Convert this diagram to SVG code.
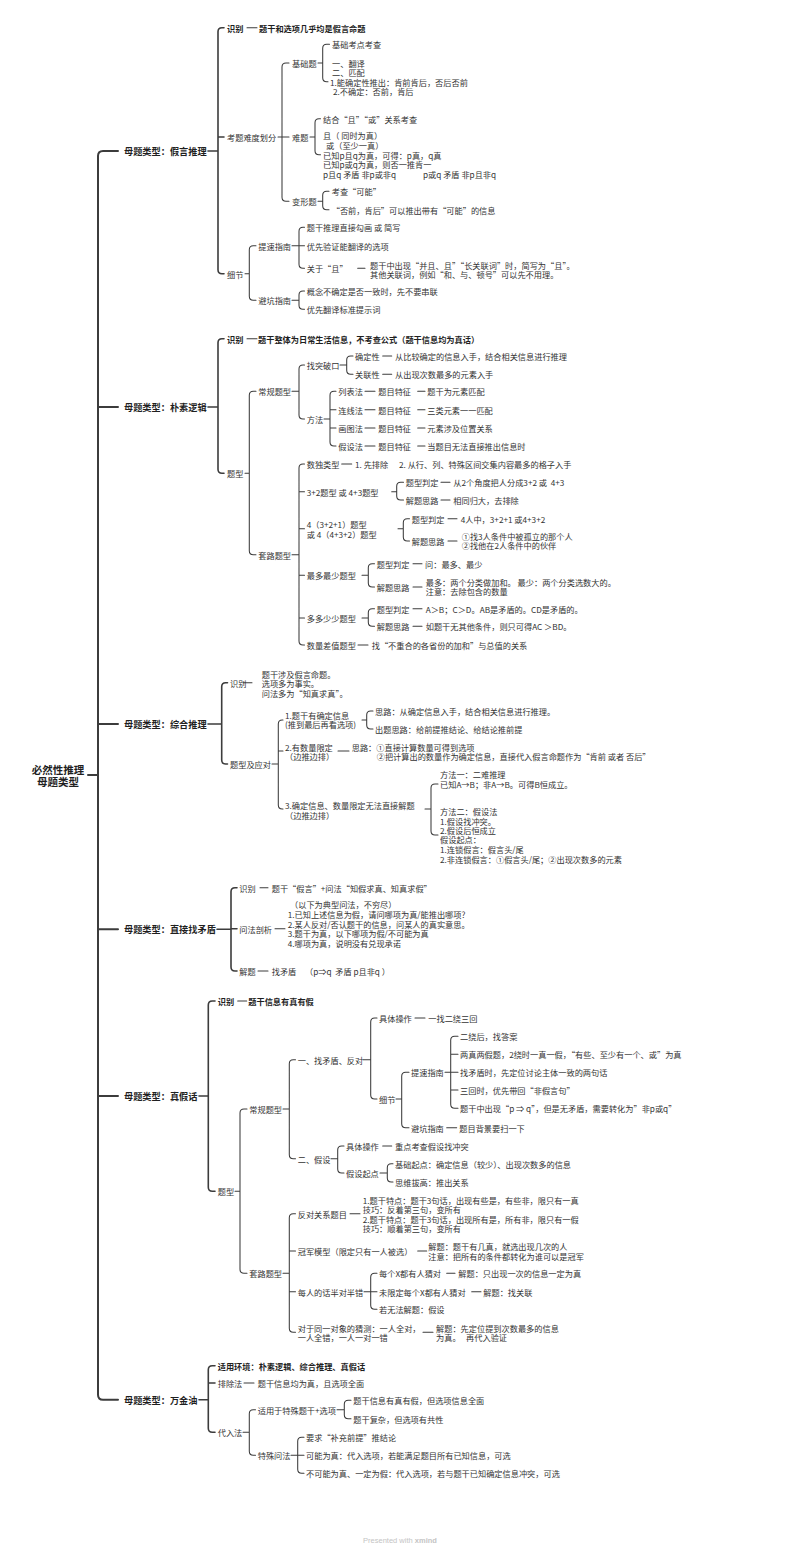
<svg xmlns="http://www.w3.org/2000/svg" width="800" height="1552" viewBox="0 0 800 1552">
<style>
.t{font-family:"Noto Sans CJK SC","Noto Sans",sans-serif;font-size:8.2px;fill:#333;dominant-baseline:central;white-space:pre}
.b{font-weight:700;fill:#1f1f1f}
.cat{font-size:9.2px;font-weight:700;fill:#1f1f1f}
.root{font-size:10.5px;font-weight:700;fill:#1f1f1f;text-anchor:middle}
.ft{font-family:"Liberation Sans",sans-serif;font-size:7.5px;fill:#c4c4c4;text-anchor:middle}
.ln{fill:none;stroke:#3c3c3c;stroke-width:1.05;stroke-linecap:round}
.lm{stroke-width:1.6}
.lt{stroke-width:2}
</style>
<rect width="800" height="1552" fill="#fff"/>
<g id="connectors">
<path class="ln lt" d="M88 775H98 M118 151H103Q98 151 98 156V1394.7Q98 1399.7 103 1399.7H118 M98 407H118 M98 724H118 M98 929.3H118 M98 1096H118"/>
<path class="ln lm" d="M208 151H218 M224 27.7H222Q218 27.7 218 31.7V269.7Q218 273.7 222 273.7H224 M218 137H224"/>
<path class="ln" d="M247 27.7H257 M278 137H289 M289 63H286Q282 63 282 67V197.3Q282 201.3 286 201.3H289
M318 63H322.7 M329.5 44.3H326.7Q322.7 44.3 322.7 48.3V77.7Q322.7 81.7 326.7 81.7H328
M310 137H315 M320.5 118.7H319Q315 118.7 315 122.7V150.7Q315 154.7 319 154.7H320.5
M318 201.3H322.7 M329 191.3H326.7Q322.7 191.3 322.7 195.3V205.7Q322.7 209.7 326.7 209.7H329
M245 273.7H249.3 M256 245.7H253.3Q249.3 245.7 249.3 249.7V296.3Q249.3 300.3 253.3 300.3H256
M292 245.7H304.5 M304.5 227.3H303Q299 227.3 299 231.3V264.3Q299 268.3 303 268.3H304.5 M357.7 268.3H365
M292 300.3H299 M304.5 291H303Q299 291 299 295V305.3Q299 309.3 303 309.3H304.5"/>
<path class="ln lm" d="M208 407H218 M224 338.7H222Q218 338.7 218 342.7V469.3Q218 473.3 222 473.3H224"/>
<path class="ln" d="M247 338.7H257 M245 473.3H249.3 M256 391.3H253.3Q249.3 391.3 249.3 395.3V550.7Q249.3 554.7 253.3 554.7H256
M292 391.3H299 M304.5 365H303Q299 365 299 369V415Q299 419 303 419H304.5
M340 365H346.7 M353 356H350.7Q346.7 356 346.7 360V370.3Q346.7 374.3 350.7 374.3H353 M382.7 356H391.7 M382.7 374.3H391.7
M324 419H330 M336 391.3H334Q330 391.3 330 395.3V442Q330 446 334 446H336 M330 409.7H336 M330 428H336
M365 391.3H375 M417.7 391.3H425 M365 409.7H375 M417.7 409.7H425 M365 428H375 M417.7 428H425 M365 446H375 M417.7 446H425
M292 554.7H299 M304.5 464H303Q299 464 299 468V641Q299 645 303 645H304.5 M299 491.7H304.5 M299 528.7H304.5 M299 575.3H304.5 M299 618H304.5
M341.7 464H351.7
M391.7 491.7H396.7 M403.5 482.3H400.7Q396.7 482.3 396.7 486.3V496Q396.7 500 400.7 500H403.5 M441 482.3H450 M441 500H450
M398 528.7H403.3 M409.5 518.7H407.3Q403.3 518.7 403.3 522.7V537Q403.3 541 407.3 541H409.5 M448 518.7H457 M448 541H457
M362 575.3H368.3 M374.5 563.7H372.3Q368.3 563.7 368.3 567.7V583Q368.3 587 372.3 587H374.5 M413 563.7H422 M413 587H422
M362 618H368.3 M374.5 608.7H372.3Q368.3 608.7 368.3 612.7V622.3Q368.3 626.3 372.3 626.3H374.5 M413 608.7H422 M413 626.3H422
M358 645H368"/>
<path class="ln lm" d="M208 724H221.7 M227.5 682.7H225.7Q221.7 682.7 221.7 686.7V760Q221.7 764 225.7 764H227.5"/>
<path class="ln" d="M243 682.7H252 M272 764H278.3 M283 720H282.3Q278.3 720 278.3 724V805Q278.3 809 282.3 809H283 M278.3 751H283
M362 720H366.7 M373 711H370.7Q366.7 711 366.7 715V725Q366.7 729 370.7 729H373
M338 751H349
M425 809H431 M438 784H435Q431 784 431 788V831Q431 835 435 835H438"/>
<path class="ln lm" d="M217 929.3H231 M237 887.7H235Q231 887.7 231 891.7V967Q231 971 235 971H237 M231 928.7H237"/>
<path class="ln" d="M260 887.7H268 M275 928.7H285 M258 971H268"/>
<path class="ln lm" d="M199 1096H208.3 M215 1001H212.3Q208.3 1001 208.3 1005V1187.3Q208.3 1191.3 212.3 1191.3H215"/>
<path class="ln" d="M237.7 1001H246.7 M235 1191.3H240 M247 1109H244Q240 1109 240 1113V1269.3Q240 1273.3 244 1273.3H247
M283 1109H289.3 M295.5 1059.7H293.3Q289.3 1059.7 289.3 1063.7V1154.7Q289.3 1158.7 293.3 1158.7H295.5
M363 1059.7H370.7 M377 1018H374.7Q370.7 1018 370.7 1022V1095Q370.7 1099 374.7 1099H377 M415 1018H425
M396 1099H401.7 M409 1072.3H405.7Q401.7 1072.3 401.7 1076.3V1123.7Q401.7 1127.7 405.7 1127.7H409
M445 1072.3H458 M458 1036.3H454.7Q450.7 1036.3 450.7 1040.3V1104.3Q450.7 1108.3 454.7 1108.3H458 M450.7 1054.3H458 M450.7 1090H458
M446.7 1127.7H456.7
M331 1158.7H337.7 M344 1146H341.7Q337.7 1146 337.7 1150V1169Q337.7 1173 341.7 1173H344 M382.7 1146H391.7
M380 1173H387.3 M393 1163.7H391.3Q387.3 1163.7 387.3 1167.7V1178Q387.3 1182 391.3 1182H393
M283 1273.3H289.3 M295.5 1213.7H293.3Q289.3 1213.7 289.3 1217.7V1328.3Q289.3 1332.3 293.3 1332.3H295.5 M289.3 1251H295.5 M289.3 1291.7H295.5
M350 1213.7H360 M417.7 1251H426.7
M364 1291.7H377 M377 1273.3H374.7Q370.7 1273.3 370.7 1277.3V1305.3Q370.7 1309.3 374.7 1309.3H377 M446.7 1273.3H455 M471.7 1291.7H481
M423 1332.3H433"/>
<path class="ln lm" d="M199 1399.7H208.3 M215 1365.7H212.3Q208.3 1365.7 208.3 1369.7V1428.3Q208.3 1432.3 212.3 1432.3H215 M208.3 1383H215"/>
<path class="ln" d="M244 1383H254 M243 1432.3H249.3 M255.5 1409.7H253.3Q249.3 1409.7 249.3 1413.7V1451.3Q249.3 1455.3 253.3 1455.3H255.5
M337 1409.7H344.3 M351 1400.3H348.3Q344.3 1400.3 344.3 1404.3V1414.7Q344.3 1418.7 348.3 1418.7H351
M291 1455.3H304 M304 1437.3H301.7Q297.7 1437.3 297.7 1441.3V1469.3Q297.7 1473.3 301.7 1473.3H304"/>
</g>
<g id="root"><text class="t root" x="58" y="769">必然性推理</text><text class="t root" x="58" y="781">母题类型</text></g>
<g id="c1"><text class="t cat" x="124" y="151">母题类型：假言推理</text></g>
<g id="c2"><text class="t cat" x="124" y="407">母题类型：朴素逻辑</text></g>
<g id="c3"><text class="t cat" x="124" y="724">母题类型：综合推理</text></g>
<g id="c4"><text class="t cat" x="124" y="929.3">母题类型：直接找矛盾</text></g>
<g id="c5"><text class="t cat" x="124" y="1096">母题类型：真假话</text></g>
<g id="c6"><text class="t cat" x="124" y="1399.7">母题类型：万金油</text></g>

<g id="c1-id"><text class="t b" x="227" y="27.7">识别</text><text class="t b" x="259" y="27.7">题干和选项几乎均是假言命题</text></g>
<g id="c1-nd"><text class="t" x="227" y="137">考题难度划分</text></g>
<g id="c1-jc"><text class="t" x="292" y="63">基础题</text></g>
<g id="c1-jc1"><text class="t" x="332" y="44.3">基础考点考查</text></g>
<g id="c1-jc2"><text class="t" x="332" y="63.3">一、翻译</text><text class="t" x="332" y="72.3">二、匹配</text><text class="t" x="330" y="81.7">1.能确定性推出：肯前肯后，否后否前</text><text class="t" x="333" y="91">2.不确定：否前，肯后</text></g>
<g id="c1-nt"><text class="t" x="292" y="137">难题</text></g>
<g id="c1-nt1"><text class="t" x="323" y="118.7">结合“且”“或”关系考查</text></g>
<g id="c1-nt2"><text class="t" x="323" y="135">且（ 同时为真）</text><text class="t" x="326" y="145.3">或（至少一真）</text><text class="t" x="323" y="154.7">已知p且q为真，可得：p真，q真</text><text class="t" x="323" y="164">已知p或q为真，则否一推肯一</text><text class="t" x="323" y="174">p且q 矛盾 非p或非q</text><text class="t" x="423" y="174">p或q 矛盾 非p且非q</text></g>
<g id="c1-bx"><text class="t" x="292" y="201.3">变形题</text></g>
<g id="c1-bx1"><text class="t" x="331.7" y="191.3">考查“可能”</text></g>
<g id="c1-bx2"><text class="t" x="331.7" y="209.7">“否前，肯后”可以推出带有“可能”的信息</text></g>
<g id="c1-xj"><text class="t" x="227" y="273.7">细节</text></g>
<g id="c1-ts"><text class="t" x="258.3" y="245.7">提速指南</text></g>
<g id="c1-ts1"><text class="t" x="306.7" y="227.3">题干推理直接勾画 或 简写</text></g>
<g id="c1-ts2"><text class="t" x="306.7" y="245.7">优先验证能翻译的选项</text></g>
<g id="c1-ts3"><text class="t" x="306.7" y="268.3">关于“且”</text></g>
<g id="c1-ts3a"><text class="t" x="370" y="264.7">题干中出现“并且、且”“长关联词”时，简写为“且”。</text><text class="t" x="370" y="273.7">其他关联词，例如“和、与、顿号”可以先不用理。</text></g>
<g id="c1-bk"><text class="t" x="258.3" y="300.3">避坑指南</text></g>
<g id="c1-bk1"><text class="t" x="306.7" y="291">概念不确定是否一致时，先不要串联</text></g>
<g id="c1-bk2"><text class="t" x="306.7" y="309.3">优先翻译标准提示词</text></g>

<g id="c2-id"><text class="t b" x="227" y="338.7">识别</text><text class="t b" x="258" y="338.7">题干整体为日常生活信息，不考查公式（题干信息均为真话）</text></g>
<g id="c2-tx"><text class="t" x="227" y="473.3">题型</text></g>
<g id="c2-cg"><text class="t" x="258.3" y="391.3">常规题型</text></g>
<g id="c2-tp"><text class="t" x="306.7" y="365">找突破口</text></g>
<g id="c2-tp1"><text class="t" x="355" y="356">确定性</text><text class="t" x="395" y="356">从比较确定的信息入手，结合相关信息进行推理</text></g>
<g id="c2-tp2"><text class="t" x="355" y="374.3">关联性</text><text class="t" x="395" y="374.3">从出现次数最多的元素入手</text></g>
<g id="c2-ff"><text class="t" x="306.7" y="419">方法</text></g>
<g id="c2-ff1"><text class="t" x="338.3" y="391.3">列表法</text><text class="t" x="378.3" y="391.3">题目特征</text><text class="t" x="427.3" y="391.3">题干为元素匹配</text></g>
<g id="c2-ff2"><text class="t" x="338.3" y="409.7">连线法</text><text class="t" x="378.3" y="409.7">题目特征</text><text class="t" x="427.3" y="409.7">三类元素一一匹配</text></g>
<g id="c2-ff3"><text class="t" x="338.3" y="428">画图法</text><text class="t" x="378.3" y="428">题目特征</text><text class="t" x="427.3" y="428">元素涉及位置关系</text></g>
<g id="c2-ff4"><text class="t" x="338.3" y="446">假设法</text><text class="t" x="378.3" y="446">题目特征</text><text class="t" x="427.3" y="446">当题目无法直接推出信息时</text></g>
<g id="c2-tl"><text class="t" x="258.3" y="554.7">套路题型</text></g>
<g id="c2-sd"><text class="t" x="306.7" y="464">数独类型</text><text class="t" x="355" y="464">1. 先排除</text><text class="t" x="399" y="464">2. 从行、列、特殊区间交集内容最多的格子入手</text></g>
<g id="c2-32"><text class="t" x="306.7" y="491.7">3+2题型 或 4+3题型</text><text class="t" x="405.7" y="482.3">题型判定</text><text class="t" x="453.3" y="482.3">从2个角度把人分成3+2 或  4+3</text><text class="t" x="405.7" y="500">解题思路</text><text class="t" x="453.3" y="500">相同归大，去排除</text></g>
<g id="c2-4"><text class="t" x="306.7" y="523.7">4（3+2+1）题型</text><text class="t" x="306.7" y="533.7">或 4（4+3+2）题型</text><text class="t" x="411.7" y="518.7">题型判定</text><text class="t" x="460.7" y="518.7">4人中，3+2+1 或4+3+2</text><text class="t" x="411.7" y="541">解题思路</text><text class="t" x="461.7" y="536.3">①找3人条件中被孤立的那个人</text><text class="t" x="461.7" y="545.3">②找他在2人条件中的伙伴</text></g>
<g id="c2-zd"><text class="t" x="306.7" y="575.3">最多最少题型</text><text class="t" x="376.7" y="563.7">题型判定</text><text class="t" x="425" y="563.7">问：最多、最少</text><text class="t" x="376.7" y="587">解题思路</text><text class="t" x="425.7" y="582">最多：两个分类做加和。 最少：两个分类选数大的。</text><text class="t" x="425.7" y="591.3">注意：去除包含的数量</text></g>
<g id="c2-dd"><text class="t" x="306.7" y="618">多多少少题型</text><text class="t" x="376.7" y="608.7">题型判定</text><text class="t" x="425.7" y="608.7">A＞B；C＞D。AB是矛盾的。CD是矛盾的。</text><text class="t" x="376.7" y="626.3">解题思路</text><text class="t" x="425.7" y="626.3">如题干无其他条件，则只可得AC ＞BD。</text></g>
<g id="c2-sl"><text class="t" x="306.7" y="645">数量差值题型</text><text class="t" x="371.7" y="645">找“不重合的各省份的加和”与总值的关系</text></g>

<g id="c3-id"><text class="t" x="230" y="682.7">识别</text><text class="t" x="261.7" y="674.3">题干涉及假言命题。</text><text class="t" x="261.7" y="683.3">选项多为事实。</text><text class="t" x="261.7" y="692.7">问法多为“知真求真”。</text></g>
<g id="c3-tx"><text class="t" x="230" y="764">题型及应对</text></g>
<g id="c3-1"><text class="t" x="285" y="715">1.题干有确定信息</text><text class="t" x="285" y="724.3">(推到最后再看选项)</text></g>
<g id="c3-1a"><text class="t" x="375" y="711">思路：从确定信息入手，结合相关信息进行推理。</text></g>
<g id="c3-1b"><text class="t" x="375" y="729">出题思路：给前提推结论、给结论推前提</text></g>
<g id="c3-2"><text class="t" x="285" y="746.7">2.有数量限定</text><text class="t" x="285" y="756">（边推边排）</text></g>
<g id="c3-2a"><text class="t" x="351.7" y="746.7">思路：①直接计算数量可得到选项</text><text class="t" x="376.7" y="755.7">②把计算出的数量作为确定信息，直接代入假言命题作为“肯前 或者 否后”</text></g>
<g id="c3-3"><text class="t" x="285" y="804.7">3.确定信息、数量限定无法直接解题</text><text class="t" x="285" y="814.7">（边推边排）</text></g>
<g id="c3-3a"><text class="t" x="440" y="774">方法一：二难推理</text><text class="t" x="440" y="784">已知A→B；非A→B。可得B恒成立。</text></g>
<g id="c3-3b"><text class="t" x="440" y="811.3">方法二：假设法</text><text class="t" x="440" y="820.7">1.假设找冲突。</text><text class="t" x="440" y="829.7">2.假设后恒成立</text><text class="t" x="440" y="839">假设起点：</text><text class="t" x="440" y="849">1.连锁假言：假言头/尾</text><text class="t" x="440" y="859">2.非连锁假言：①假言头/尾；②出现次数多的元素</text></g>

<g id="c4-id"><text class="t" x="239.3" y="887.7">识别</text><text class="t" x="271.7" y="887.7">题干“假言”+问法“知假求真、知真求假”</text></g>
<g id="c4-wf"><text class="t" x="239.3" y="928.7">问法剖析</text><text class="t" x="290" y="904.3">（以下为典型问法，不穷尽）</text><text class="t" x="287.7" y="914.3">1.已知上述信息为假，请问哪项为真/能推出哪项?</text><text class="t" x="287.7" y="924.3">2.某人反对/否认题干的信息，问某人的真实意思。</text><text class="t" x="287.7" y="933.3">3.题干为真，以下哪项为假/不可能为真</text><text class="t" x="287.7" y="942.7">4.哪项为真，说明没有兑现承诺</text></g>
<g id="c4-jt"><text class="t" x="239.3" y="971">解题</text><text class="t" x="271.7" y="971">找矛盾</text><text class="t" x="305" y="971">（p⇒q  矛盾 p且非q ）</text></g>

<g id="c5-id"><text class="t b" x="217.7" y="1001">识别</text><text class="t b" x="248.3" y="1001">题干信息有真有假</text></g>
<g id="c5-tx"><text class="t" x="217.7" y="1191.3">题型</text></g>
<g id="c5-cg"><text class="t" x="249.3" y="1109">常规题型</text></g>
<g id="c5-1"><text class="t" x="297.7" y="1059.7">一、找矛盾、反对</text></g>
<g id="c5-1a"><text class="t" x="379" y="1018">具体操作</text><text class="t" x="428.3" y="1018">一找二绕三回</text></g>
<g id="c5-1b"><text class="t" x="379" y="1099">细节</text></g>
<g id="c5-ts"><text class="t" x="411" y="1072.3">提速指南</text><text class="t" x="460" y="1036.3">二绕后，找答案</text><text class="t" x="460" y="1054.3">两真两假题，2绕时一真一假，“有些、至少有一个、或”为真</text><text class="t" x="460" y="1072.3">找矛盾时，先定位讨论主体一致的两句话</text><text class="t" x="460" y="1090">三回时，优先带回“非假言句”</text><text class="t" x="460" y="1108.3">题干中出现“p ⇒ q”，但是无矛盾，需要转化为”非p或q”</text></g>
<g id="c5-bk"><text class="t" x="411" y="1127.7">避坑指南</text><text class="t" x="459.3" y="1127.7">题目背景要扫一下</text></g>
<g id="c5-2"><text class="t" x="297.7" y="1158.7">二、假设</text></g>
<g id="c5-2a"><text class="t" x="346" y="1146">具体操作</text><text class="t" x="395" y="1146">重点考查假设找冲突</text></g>
<g id="c5-2b"><text class="t" x="346" y="1173">假设起点</text><text class="t" x="395" y="1163.7">基础起点：确定信息（较少）、出现次数多的信息</text><text class="t" x="395" y="1182">思维拔高：推出关系</text></g>
<g id="c5-tl"><text class="t" x="249.3" y="1273.3">套路题型</text></g>
<g id="c5-fd"><text class="t" x="297.7" y="1213.7">反对关系题目</text><text class="t" x="362.7" y="1200.3">1.题干特点：题干3句话，出现有些是，有些非，限只有一真</text><text class="t" x="362.7" y="1209.3">技巧：反着第三句，变所有</text><text class="t" x="362.7" y="1218.7">2.题干特点：题干3句话，出现所有是，所有非，限只有一假</text><text class="t" x="362.7" y="1228">技巧：顺着第三句，变所有</text></g>
<g id="c5-gj"><text class="t" x="297.7" y="1251">冠军模型（限定只有一人被选）</text><text class="t" x="428.3" y="1246">解题：题干有几真，就选出现几次的人</text><text class="t" x="428.3" y="1256">注意：把所有的条件都转化为谁可以是冠军</text></g>
<g id="c5-bd"><text class="t" x="297.7" y="1291.7">每人的话半对半错</text><text class="t" x="379" y="1273.3">每个X都有人猜对</text><text class="t" x="458.3" y="1273.3">解题：只出现一次的信息一定为真</text><text class="t" x="379" y="1291.7">未限定每个X都有人猜对</text><text class="t" x="483.3" y="1291.7">解题：找关联</text><text class="t" x="379" y="1309.3">若无法解题：假设</text></g>
<g id="c5-cc"><text class="t" x="297.7" y="1327.7">对于同一对象的猜测：一人全对，</text><text class="t" x="297.7" y="1337.3">一人全错，一人一对一错</text><text class="t" x="436" y="1327.7">解题：先定位提到次数最多的信息</text><text class="t" x="436" y="1337.3">为真。   再代入验证</text></g>

<g id="c6-hj"><text class="t b" x="217.7" y="1365.7">适用环境：朴素逻辑、综合推理、真假话</text></g>
<g id="c6-pc"><text class="t" x="217.7" y="1383">排除法</text><text class="t" x="257.7" y="1383">题干信息均为真，且选项全面</text></g>
<g id="c6-dr"><text class="t" x="217.7" y="1432.3">代入法</text></g>
<g id="c6-sy"><text class="t" x="257.7" y="1409.7">适用于特殊题干+选项</text><text class="t" x="353.3" y="1400.3">题干信息有真有假，但选项信息全面</text><text class="t" x="353.3" y="1418.7">题干复杂，但选项有共性</text></g>
<g id="c6-ts"><text class="t" x="257.7" y="1455.3">特殊问法</text><text class="t" x="306" y="1437.3">要求“补充前提”推结论</text><text class="t" x="306" y="1455.3">可能为真：代入选项，若能满足题目所有已知信息，可选</text><text class="t" x="306" y="1473.3">不可能为真、一定为假：代入选项，若与题干已知确定信息冲突，可选</text></g>
<g id="footer"><text class="ft" x="400" y="1543">Presented with <tspan font-weight="700">xmind</tspan></text></g>
</svg>
